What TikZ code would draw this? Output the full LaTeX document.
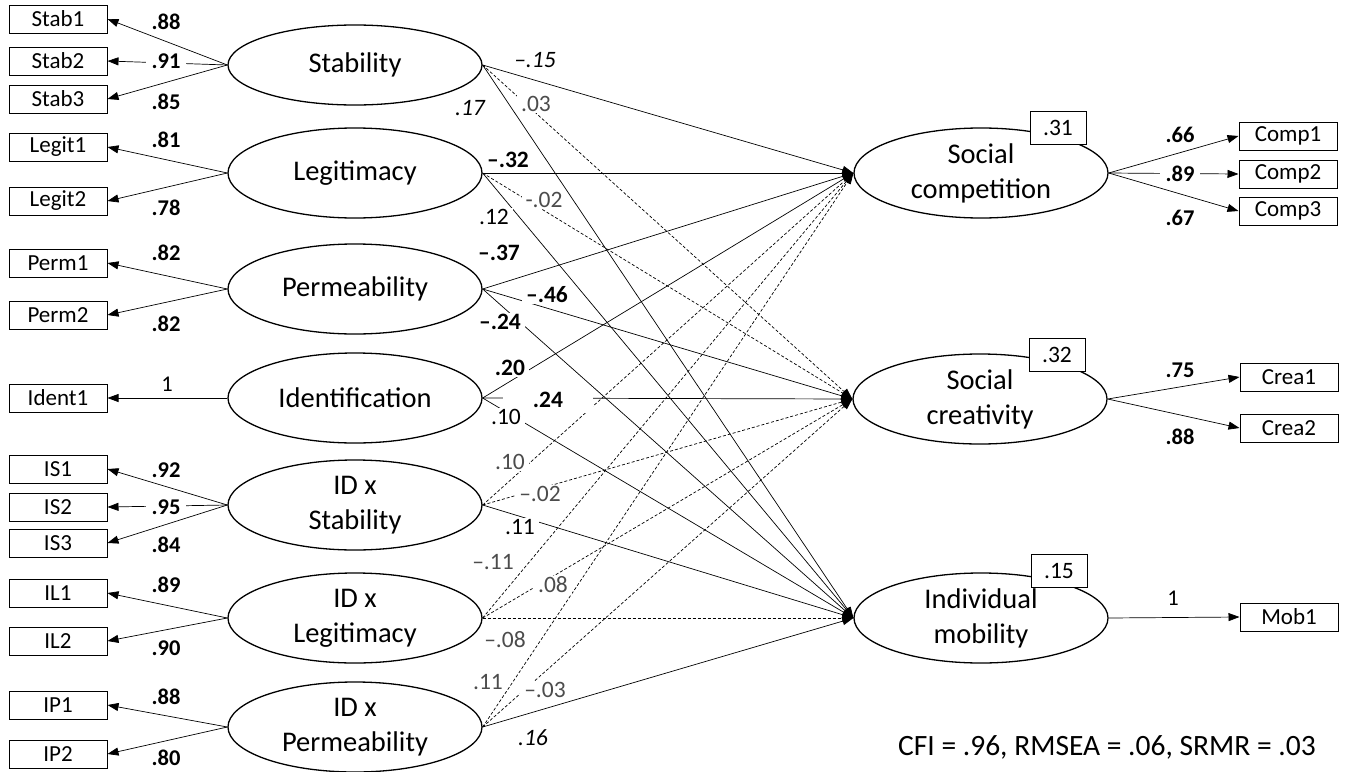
\documentclass[tikz,border=0pt]{standalone}
\usepackage{fontspec}
\setmainfont{Carlito}
\usetikzlibrary{arrows.meta,positioning,shapes.geometric}

\begin{document}
\begin{tikzpicture}[
  x=1pt, y=-1pt,
  latent/.style={draw, ellipse, line width=1.3pt, minimum width=254pt, minimum height=90pt, inner sep=0pt, align=center, font=\fontsize{28.5}{35}\selectfont},
  item/.style={draw, line width=1pt, minimum width=98pt, minimum height=28pt, inner sep=0pt, font=\fontsize{23}{27}\selectfont},
  rsq/.style={draw, fill=white, line width=1pt, minimum width=56pt, minimum height=33pt, inner sep=0pt, font=\fontsize{23.5}{27}\selectfont},
  load/.style={fill=white, inner xsep=6pt, inner ysep=1pt, font=\fontsize{22.5}{27}\selectfont\bfseries},
  coef/.style={fill=white, inner xsep=4pt, inner ysep=1pt, font=\fontsize{23.5}{27}\selectfont},
  sig/.style={coef, font=\fontsize{23.5}{27}\selectfont\bfseries},
  marg/.style={coef, font=\fontsize{23.5}{27}\selectfont\itshape},
  ns/.style={coef, text=black!70},
  arrow/.style={-{Triangle[length=11pt,width=8pt]}, line width=0.7pt},
  nsarrow/.style={arrow, dash pattern=on 3pt off 2pt}
]
\useasboundingbox (0,0) rectangle (1346,771);

\node[latent, minimum height=80pt] (stab) at (355,65) {Stability};
\node[latent] (legit) at (355,173) {Legitimacy};
\node[latent] (perm) at (355,289) {Permeability};
\node[latent] (ident) at (355,398) {Identification};
\node[latent] (idstab) at (355,505) {ID x\\Stability};
\node[latent] (idlegit) at (355,618) {ID x\\Legitimacy};
\node[latent] (idperm) at (355,727) {ID x\\Permeability};

\node[latent] (comp) at (981,173) {Social\\competition};
\node[latent] (crea) at (980,399) {Social\\creativity};
\node[latent] (mob) at (981,618) {Individual\\mobility};

\node[item] (stab1) at (58,19) {Stab1};
\node[item] (stab2) at (58,61) {Stab2};
\node[item] (stab3) at (58,99) {Stab3};
\node[item] (legit1) at (58,147) {Legit1};
\node[item] (legit2) at (58,201) {Legit2};
\node[item] (perm1) at (58,263) {Perm1};
\node[item] (perm2) at (58,315) {Perm2};
\node[item] (ident1) at (58,398) {Ident1};
\node[item] (is1) at (58,469) {IS1};
\node[item] (is2) at (58,507) {IS2};
\node[item] (is3) at (58,543) {IS3};
\node[item] (il1) at (58,593) {IL1};
\node[item] (il2) at (58,641) {IL2};
\node[item] (ip1) at (58,705) {IP1};
\node[item] (ip2) at (58,754) {IP2};

\node[item] (comp1) at (1288,136) {Comp1};
\node[item] (comp2) at (1288,174) {Comp2};
\node[item] (comp3) at (1288,211) {Comp3};
\node[item] (crea1) at (1289,377) {Crea1};
\node[item] (crea2) at (1289,428) {Crea2};
\node[item] (mob1) at (1289,617) {Mob1};

\draw[arrow] (stab.west) -- (stab1.east);
\draw[arrow] (stab.west) -- (stab2.east);
\draw[arrow] (stab.west) -- (stab3.east);
\draw[arrow] (legit.west) -- (legit1.east);
\draw[arrow] (legit.west) -- (legit2.east);
\draw[arrow] (perm.west) -- (perm1.east);
\draw[arrow] (perm.west) -- (perm2.east);
\draw[arrow] (ident.west) -- (ident1.east);
\draw[arrow] (idstab.west) -- (is1.east);
\draw[arrow] (idstab.west) -- (is2.east);
\draw[arrow] (idstab.west) -- (is3.east);
\draw[arrow] (idlegit.west) -- (il1.east);
\draw[arrow] (idlegit.west) -- (il2.east);
\draw[arrow] (idperm.west) -- (ip1.east);
\draw[arrow] (idperm.west) -- (ip2.east);

\draw[arrow] (comp.east) -- (comp1.west);
\draw[arrow] (comp.east) -- (comp2.west);
\draw[arrow] (comp.east) -- (comp3.west);
\draw[arrow] (crea.east) -- (crea1.west);
\draw[arrow] (crea.east) -- (crea2.west);
\draw[arrow] (mob.east) -- (mob1.west);

\draw[arrow] (stab.east) -- (comp.west);
\draw[nsarrow] (stab.east) -- (crea.west);
\draw[arrow] (stab.east) -- (mob.west);
\draw[arrow] (legit.east) -- (comp.west);
\draw[nsarrow] (legit.east) -- (crea.west);
\draw[arrow] (legit.east) -- (mob.west);
\draw[arrow] (perm.east) -- (comp.west);
\draw[arrow] (perm.east) -- (crea.west);
\draw[arrow] (perm.east) -- (mob.west);
\draw[arrow] (ident.east) -- (comp.west);
\draw[arrow] (ident.east) -- (crea.west);
\draw[arrow] (ident.east) -- (mob.west);
\draw[nsarrow] (idstab.east) -- (comp.west);
\draw[nsarrow] (idstab.east) -- (crea.west);
\draw[arrow] (idstab.east) -- (mob.west);
\draw[nsarrow] (idlegit.east) -- (comp.west);
\draw[nsarrow] (idlegit.east) -- (crea.west);
\draw[nsarrow] (idlegit.east) -- (mob.west);
\draw[nsarrow] (idperm.east) -- (comp.west);
\draw[nsarrow] (idperm.east) -- (crea.west);
\draw[arrow] (idperm.east) -- (mob.west);

\node[load] (ld-stab1) at (166,22) {.88};
\node[load] (ld-stab2) at (166,61) {.91};
\node[load] (ld-stab3) at (166,102) {.85};
\node[load] (ld-legit1) at (166,140) {.81};
\node[load] (ld-legit2) at (166,208) {.78};
\node[load] (ld-perm1) at (166,253) {.82};
\node[load] (ld-perm2) at (166,324) {.82};
\node[load, font=\fontsize{22.5}{27}\selectfont] (ld-ident1) at (167,384) {1};
\node[load] (ld-is1) at (166,470) {.92};
\node[load] (ld-is2) at (166,507) {.95};
\node[load] (ld-is3) at (166,545) {.84};
\node[load] (ld-il1) at (166,585) {.89};
\node[load] (ld-il2) at (166,648) {.90};
\node[load] (ld-ip1) at (166,697) {.88};
\node[load] (ld-ip2) at (166,758) {.80};
\node[load] (ld-comp1) at (1180,135) {.66};
\node[load] (ld-comp2) at (1180,174) {.89};
\node[load] (ld-comp3) at (1180,218) {.67};
\node[load] (ld-crea1) at (1180,370) {.75};
\node[load] (ld-crea2) at (1180,437) {.88};
\node[load, font=\fontsize{22.5}{27}\selectfont] (ld-mob1) at (1173,598) {1};

\node[marg] (c-stab-comp) at (535,60) {–.15};
\node[ns] (c-stab-crea) at (536,104) {.03};
\node[marg] (c-stab-mob) at (470,108) {.17};
\node[sig] (c-legit-comp) at (508,160) {–.32};
\node[ns] (c-legit-crea) at (544,200) {-.02};
\node[coef] (c-legit-mob) at (494,217) {.12};
\node[sig] (c-perm-comp) at (499,253) {–.37};
\node[sig] (c-perm-crea) at (547,295) {–.46};
\node[sig] (c-perm-mob) at (500,322) {–.24};
\node[sig] (c-ident-comp) at (510,368) {.20};
\node[sig, inner xsep=30pt, inner ysep=5pt] (c-ident-crea) at (548,400) {.24};
\node[coef] (c-ident-mob) at (506,417) {.10};
\node[ns] (c-idstab-comp) at (510,462) {.10};
\node[ns] (c-idstab-crea) at (540,494) {–.02};
\node[coef] (c-idstab-mob) at (520,527) {.11};
\node[ns] (c-idlegit-comp) at (493,562) {–.11};
\node[ns] (c-idlegit-crea) at (553,585) {.08};
\node[ns] (c-idlegit-mob) at (505,640) {–.08};
\node[ns] (c-idperm-comp) at (488,682) {.11};
\node[ns] (c-idperm-crea) at (545,690) {–.03};
\node[marg] (c-idperm-mob) at (533,738) {.16};

\node[rsq] (r-comp) at (1058,128) {.31};
\node[rsq] (r-crea) at (1057,355) {.32};
\node[rsq] (r-mob) at (1059,571) {.15};

\node[anchor=base, font=\fontsize{29.5}{35}\selectfont] (fit) at (1107,755) {CFI = .96, RMSEA = .06, SRMR = .03};
\end{tikzpicture}
\end{document}
